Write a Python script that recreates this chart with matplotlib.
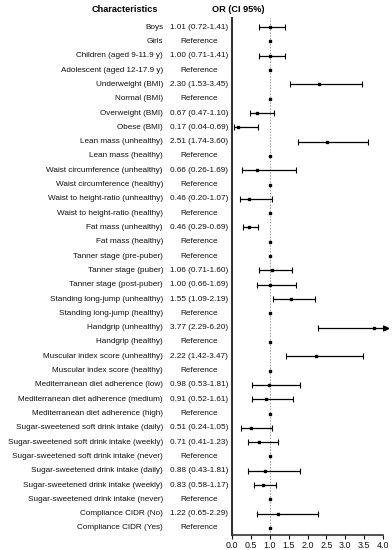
import matplotlib.pyplot as plt
import matplotlib.transforms as mtransforms
import numpy as np

plt.rcParams['font.family'] = ['Liberation Sans', 'DejaVu Sans']

labels = [
    "Boys", "Girls",
    "Children (aged 9-11.9 y)", "Adolescent (aged 12-17.9 y)",
    "Underweight (BMI)", "Normal (BMI)", "Overweight (BMI)", "Obese (BMI)",
    "Lean mass (unhealthy)", "Lean mass (healthy)",
    "Waist circumference (unhealthy)", "Waist circumference (healthy)",
    "Waist to height-ratio (unhealthy)", "Waist to height-ratio (healthy)",
    "Fat mass (unhealthy)", "Fat mass (healthy)",
    "Tanner stage (pre-puber)", "Tanner stage (puber)", "Tanner stage (post-puber)",
    "Standing long-jump (unhealthy)", "Standing long-jump (healthy)",
    "Handgrip (unhealthy)", "Handgrip (healthy)",
    "Muscular index score (unhealthy)", "Muscular index score (healthy)",
    "Mediterranean diet adherence (low)", "Mediterranean diet adherence (medium)",
    "Mediterranean diet adherence (high)",
    "Sugar-sweetened soft drink intake (daily)", "Sugar-sweetened soft drink intake (weekly)",
    "Sugar-sweetened soft drink intake (never)",
    "Sugar-sweetened drink intake (daily)", "Sugar-sweetened drink intake (weekly)",
    "Sugar-sweetened drink intake (never)",
    "Compliance CIDR (No)", "Compliance CIDR (Yes)",
]

# None = reference category (OR fixed at 1)
odds = [1.01, None, 1.00, None, 2.30, None, 0.67, 0.17, 2.51, None, 0.66, None,
        0.46, None, 0.46, None, None, 1.06, 1.00, 1.55, None, 3.77, None, 2.22, None,
        0.98, 0.91, None, 0.51, 0.71, None, 0.88, 0.83, None, 1.22, None]
lower = [0.72, None, 0.71, None, 1.53, None, 0.47, 0.04, 1.74, None, 0.26, None,
         0.20, None, 0.29, None, None, 0.71, 0.66, 1.09, None, 2.29, None, 1.42, None,
         0.53, 0.52, None, 0.24, 0.41, None, 0.43, 0.58, None, 0.65, None]
upper = [1.41, None, 1.41, None, 3.45, None, 1.10, 0.69, 3.60, None, 1.69, None,
         1.07, None, 0.69, None, None, 1.60, 1.69, 2.19, None, 6.20, None, 3.47, None,
         1.81, 1.61, None, 1.05, 1.23, None, 1.81, 1.17, None, 2.29, None]

xmax = 4.0
fs = 5.9

fig = plt.figure(figsize=(3.92, 5.5), dpi=100)
ax = fig.add_axes([0.592, 0.027, 0.385, 0.94])
trans = mtransforms.blended_transform_factory(fig.transFigure, ax.transData)

n = len(labels)
y = np.arange(n)

ax.axvline(1.0, color='#999999', lw=0.7, ls=(0, (1.5, 1.5)), zorder=1)

for i in range(n):
    if odds[i] is None:
        ax.plot(1.0, y[i], 's', color='black', ms=2.0, zorder=3)
        txt = "Reference"
    else:
        hi = min(upper[i], xmax)
        ax.errorbar(odds[i], y[i], xerr=[[odds[i] - lower[i]], [hi - odds[i]]],
                    fmt='s', color='black', ms=2.0, elinewidth=0.9, capsize=2.3,
                    capthick=0.8, zorder=3)
        if upper[i] > xmax:
            ax.plot([xmax, xmax + 0.08], [y[i], y[i]], color='black', lw=0.9, clip_on=False)
            ax.plot(xmax + 0.08, y[i], '>', color='black', ms=3.2, clip_on=False)
        txt = f"{odds[i]:.2f} ({lower[i]:.2f}-{upper[i]:.2f})"
    ax.text(163 / 392, y[i], labels[i], ha='right', va='center', fontsize=fs,
            color='#111111', transform=trans, clip_on=False)
    ax.text(199 / 392, y[i], txt, ha='center', va='center', fontsize=fs,
            color='#111111', transform=trans, clip_on=False)

ax.set_xlim(0, xmax)
ax.set_ylim(n - 0.5, -0.63)
ax.set_xticks(np.arange(0, 4.01, 0.5))
ax.set_xticklabels([f"{v:.1f}" for v in np.arange(0, 4.01, 0.5)], fontsize=6.4)
ax.set_yticks([])
ax.tick_params(axis='x', length=3, width=0.8, pad=1.5, colors='#111111')
ax.spines['top'].set_visible(False)
ax.spines['right'].set_visible(False)
ax.spines['left'].set_linewidth(1.5)
ax.spines['left'].set_color('#333333')
ax.spines['bottom'].set_linewidth(1.2)
ax.spines['bottom'].set_color('#333333')

fig.text(125 / 392, 1 - 9 / 550, "Characteristics", ha='center', va='center',
         fontsize=6.6, fontweight='bold')
fig.text(238 / 392, 1 - 9 / 550, "OR (CI 95%)", ha='center', va='center',
         fontsize=6.6, fontweight='bold')

fig.savefig("out.png", dpi=100)
